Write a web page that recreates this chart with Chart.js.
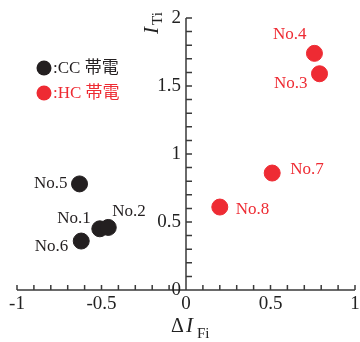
<!DOCTYPE html>
<html>
<head>
<meta charset="utf-8">
<script src="https://cdn.jsdelivr.net/npm/chart.js@4/dist/chart.umd.min.js"></script>
<style>
  body { margin: 0; background: #fff; }
  #wrap { width: 360px; height: 342px; }
</style>
</head>
<body>
<div id="wrap"><canvas id="myChart" width="360" height="342"></canvas></div>
<script>
// data
var ccNames = ['No.1', 'No.2', 'No.5', 'No.6'];
var ccX = [-0.51, -0.46, -0.63, -0.62];
var ccY = [0.45, 0.46, 0.78, 0.36];

var hcNames = ['No.3', 'No.4', 'No.7', 'No.8'];
var hcX = [0.79, 0.76, 0.51, 0.2];
var hcY = [1.59, 1.74, 0.86, 0.61];

var xTickLabels = ['-1', '-0.5', '0', '0.5', '1'];
var yTickLabels = ['0', '0.5', '1', '1.5', '2'];
var legendTexts = [':CC 帯電', ':HC 帯電'];

var black = '#231f20';
var red = '#ee2b33';
var axisColor = '#3a3a3a';
var serif = '"Liberation Serif", "DejaVu Serif", serif';
var cjk = '"Liberation Serif", "Noto Sans CJK JP", serif';

// where each point label sits relative to its point [dx, dy, align]
var ccLabelPos = [[-9, -10, 'right'], [4, -16, 'left'], [-12, 0, 'right'], [-13, 5, 'right']];
var hcLabelPos = [[-12, 10, 'right'], [-8, -19, 'right'], [18, -4, 'left'], [16, 2, 'left']];

var toPoints = function (xs, ys) {
    var out = [];
    for (var i = 0; i < xs.length; i++) out.push({ x: xs[i], y: ys[i] });
    return out;
};

var decor = {
    id: 'decor',
    afterDatasetsDraw: function (chart) {
        var ctx = chart.ctx;
        var xs = chart.scales.x, ys = chart.scales.y;
        var x0 = xs.getPixelForValue(0), y0 = ys.getPixelForValue(0);
        ctx.save();
        ctx.strokeStyle = axisColor;
        ctx.lineWidth = 1.5;
        // axes
        ctx.beginPath();
        ctx.moveTo(xs.getPixelForValue(-1), y0);
        ctx.lineTo(xs.getPixelForValue(1), y0);
        ctx.moveTo(x0, y0);
        ctx.lineTo(x0, ys.getPixelForValue(2));
        // minor ticks
        for (var i = -10; i <= 10; i++) {
            var px = xs.getPixelForValue(i / 10);
            ctx.moveTo(px, y0);
            ctx.lineTo(px, y0 - 5);
        }
        for (var j = 0; j <= 20; j++) {
            var py = ys.getPixelForValue(j / 10);
            ctx.moveTo(x0, py);
            ctx.lineTo(x0 + 6, py);
        }
        ctx.stroke();

        // tick labels
        ctx.fillStyle = '#222';
        ctx.font = '19px ' + serif;
        ctx.textAlign = 'center';
        ctx.textBaseline = 'top';
        xTickLabels.forEach(function (t) {
            ctx.fillText(t, xs.getPixelForValue(parseFloat(t)), y0 + 5);
        });
        ctx.textAlign = 'right';
        ctx.textBaseline = 'middle';
        yTickLabels.forEach(function (t) {
            ctx.fillText(t, x0 - 5, ys.getPixelForValue(parseFloat(t)));
        });

        // x title
        ctx.textAlign = 'left';
        ctx.textBaseline = 'alphabetic';
        ctx.font = '20px ' + serif;
        ctx.fillText('Δ', 171, 332);
        ctx.font = 'italic 21px ' + serif;
        ctx.fillText('I', 186, 332);
        ctx.font = '15px ' + serif;
        ctx.fillText('Fi', 197, 338);

        // y title, rotated
        ctx.save();
        ctx.translate(158, 34);
        ctx.rotate(-Math.PI / 2);
        ctx.font = 'italic 21px ' + serif;
        ctx.fillText('I', 0, 0);
        ctx.font = '15px ' + serif;
        ctx.fillText('Ti', 9, 4);
        ctx.restore();

        // point labels
        ctx.font = '17px ' + serif;
        ctx.textBaseline = 'middle';
        var drawLabels = function (names, xv, yv, pos, color) {
            ctx.fillStyle = color;
            for (var k = 0; k < names.length; k++) {
                ctx.textAlign = pos[k][2];
                ctx.fillText(names[k], xs.getPixelForValue(xv[k]) + pos[k][0], ys.getPixelForValue(yv[k]) + pos[k][1]);
            }
        };
        drawLabels(ccNames, ccX, ccY, ccLabelPos, black);
        drawLabels(hcNames, hcX, hcY, hcLabelPos, red);

        // legend
        var legColors = [black, red];
        ctx.textAlign = 'left';
        ctx.font = '17px ' + cjk;
        legendTexts.forEach(function (t, k) {
            var ly = 68 + k * 25;
            ctx.fillStyle = legColors[k];
            ctx.beginPath();
            ctx.arc(44, ly, 7.5, 0, Math.PI * 2);
            ctx.fill();
            ctx.fillText(t, 53, ly + 1);
        });
        ctx.restore();
    }
};

var ctx = document.getElementById('myChart').getContext('2d');
var chart = new Chart(ctx, {
    type: 'scatter',
    data: {
        datasets: [{
            label: 'CC',
            data: toPoints(ccX, ccY),
            backgroundColor: black,
            borderColor: black,
            pointRadius: 8,
            pointHoverRadius: 8
        }, {
            label: 'HC',
            data: toPoints(hcX, hcY),
            backgroundColor: red,
            borderColor: red,
            pointRadius: 8,
            pointHoverRadius: 8
        }]
    },
    options: {
        responsive: false,
        animation: { duration: 0 },
        layout: { autoPadding: false, padding: { left: 17, right: 5, top: 18, bottom: 52 } },
        plugins: { legend: { display: false }, tooltip: { enabled: false } },
        scales: {
            x: { type: 'linear', min: -1, max: 1, display: false },
            y: { type: 'linear', min: 0, max: 2, display: false }
        }
    },
    plugins: [decor]
});
</script>
</body>
</html>
